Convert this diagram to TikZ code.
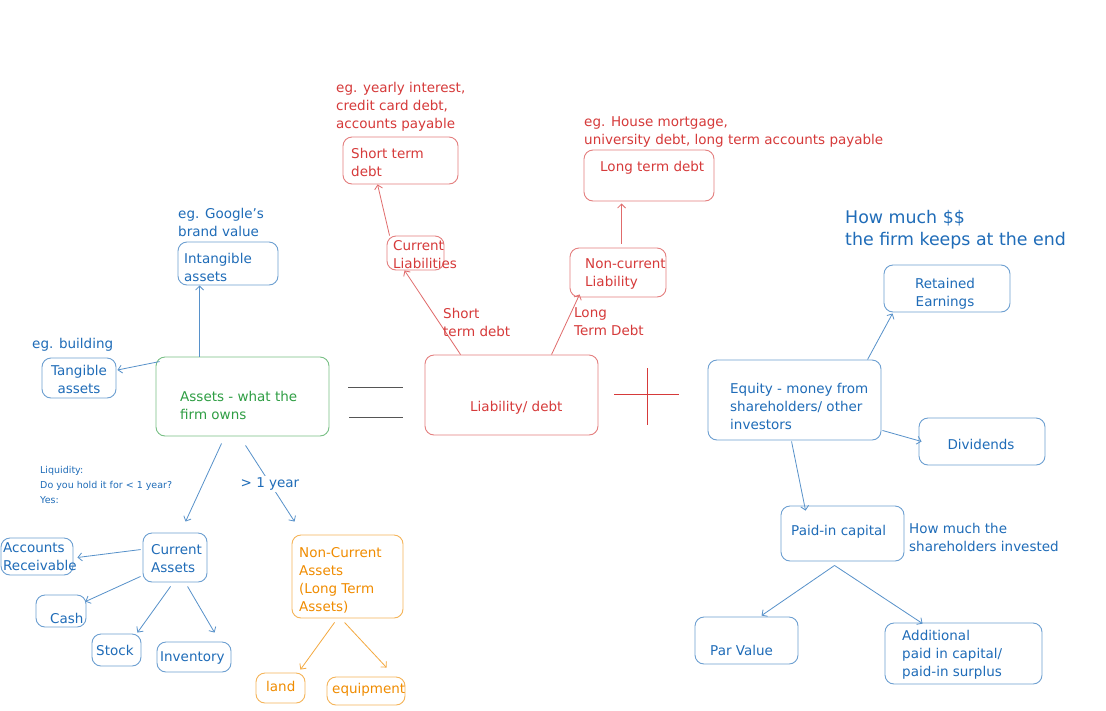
\documentclass[tikz,border=0pt]{standalone}
\usepackage{fontspec}
\setmainfont{DejaVu Sans}
\usetikzlibrary{arrows.meta,calc,fit}
\definecolor{cblue}{HTML}{1F6CB8}
\definecolor{cred}{HTML}{D63A3A}
\definecolor{cgreen}{HTML}{2F9E44}
\definecolor{corange}{HTML}{F08C00}
\definecolor{cgray}{HTML}{555555}
\begin{document}
\begin{tikzpicture}[x=1pt,y=-1pt,
 box/.style={draw=#1!65, rounded corners=9pt, line width=0.9pt, inner sep=0pt},
 txt/.style={anchor=west, align=left, inner sep=0pt, font=\fontsize{13.5}{18}\selectfont},
 ctxt/.style={txt, anchor=center, align=center},
 small/.style={txt, font=\fontsize{9.5}{15}\selectfont},
 big/.style={txt, font=\fontsize{17.4}{22}\selectfont},
 arr/.style={draw=#1!75, -{Straight Barb[length=4pt,width=8pt]}, line width=0.8pt},
 R/.style={cred}, B/.style={cblue}, G/.style={cgreen}, O/.style={corange}]
\useasboundingbox[fill=white] (0,0) rectangle (1106,710);

% ---------- boxes ----------
\node[box=cred,fit={(343,137)(458,184)}] (std) {};
\node[box=cred,fit={(584,150)(714,201)}] (ltd) {};
\node[box=cred,fit={(387,236)(444,270)}] (cl) {};
\node[box=cred,fit={(570,248)(666,297)}] (ncl) {};
\node[box=cred,fit={(425,355)(598,435)}] (liab) {};
\node[box=cgreen,fit={(156,357)(329,436)}] (assets) {};
\node[box=cblue,fit={(42,358)(116,398)}] (tang) {};
\node[box=cblue,fit={(178,242)(278,285)}] (intang) {};
\node[box=cblue,fit={(143,533)(207,582)}] (ca) {};
\node[box=cblue,fit={(1,538)(73,575)}] (ar) {};
\node[box=cblue,fit={(36,595)(86,627)}] (cash) {};
\node[box=cblue,fit={(92,634)(141,666)}] (stock) {};
\node[box=cblue,fit={(157,642)(231,672)}] (inv) {};
\node[box=corange,fit={(292,535)(403,618)}] (nca) {};
\node[box=corange,fit={(256,673)(305,703)}] (land) {};
\node[box=corange,fit={(327,677)(405,705)}] (equip) {};
\node[box=cblue,fit={(708,360)(881,440)}] (equity) {};
\node[box=cblue,fit={(884,265)(1010,312)}] (ret) {};
\node[box=cblue,fit={(919,418)(1045,465)}] (div) {};
\node[box=cblue,fit={(781,506)(904,561)}] (paid) {};
\node[box=cblue,fit={(695,617)(798,664)}] (par) {};
\node[box=cblue,fit={(885,623)(1042,684)}] (add) {};

% ---------- = and + ----------
\draw[cgray,line width=0.7pt] (348,387) -- (403,387);
\draw[cgray,line width=0.7pt] (349,417) -- (403,417);
\draw[cred,line width=0.7pt] (614,394) -- (679,394);
\draw[cred,line width=0.7pt] (647,368) -- (647,425);

% ---------- connectors ----------
\draw[arr=cred] ($(liab.north west)+(36,0)$) -- ($(cl.south west)+(18,0)$);
\draw[arr=cred] ($(cl.north west)+(3,0)$) -- ($(std.south west)+(35,0)$);
\draw[arr=cred] ($(liab.north west)+(127,0)$) -- ($(ncl.south west)+(10,-3)$);
\draw[arr=cred] ($(ncl.north west)+(52,-4)$) -- ($(ltd.south west)+(38,2)$);
\draw[arr=cblue] ($(assets.north west)+(44,0)$) -- ($(intang.south west)+(22,0)$);
\draw[arr=cblue] ($(assets.north west)+(4,5)$) -- ($(tang.east)+(1,-8)$);
\draw[arr=cblue] ($(assets.south west)+(66,7)$) -- ($(ca.north west)+(43,-11)$);
\draw[arr=cblue] ($(assets.south west)+(90,9)$) -- ($(nca.north west)+(3,-13)$);
\draw[arr=cblue] ($(ca.north west)+(-2,17)$) -- ($(ar.east)+(4,1)$);
\draw[arr=cblue] ($(ca.south west)+(-2,-6)$) -- ($(cash.north east)+(-1,7)$);
\draw[arr=cblue] ($(ca.south west)+(28,4)$) -- ($(stock.north east)+(-4,-1)$);
\draw[arr=cblue] ($(ca.south west)+(45,4)$) -- ($(inv.north west)+(58,-9)$);
\draw[arr=corange] ($(nca.south west)+(43,4)$) -- ($(land.north east)+(-5,-3)$);
\draw[arr=corange] ($(nca.south west)+(53,4)$) -- ($(equip.north west)+(60,-9)$);
\draw[arr=cblue] ($(equity.north west)+(160,0)$) -- ($(ret.south west)+(9,1)$);
\draw[arr=cblue] ($(equity.south east)+(1,-10)$) -- ($(div.west)+(3,0)$);
\draw[arr=cblue] ($(equity.south west)+(84,1)$) -- ($(paid.north west)+(25,5)$);
\draw[arr=cblue] ($(paid.south west)+(54,4)$) -- ($(par.north west)+(67,-1)$);
\draw[arr=cblue] ($(paid.south west)+(54,4)$) -- ($(add.north west)+(38,1)$);

% ---------- texts ----------
\node[txt,R] (t-ex1) at (336,107) {eg. yearly interest,\\credit card debt,\\accounts payable};
\node[txt,R] (t-std) at (351,162) {Short term\\debt};
\node[txt,R] (t-ex2) at (584,132) {eg. House mortgage,\\university debt, long term accounts payable};
\node[txt,R] (t-ltd) at (600,168) {Long term debt};
\node[txt,R] (t-cl) at (393,255) {Current\\Liabilities};
\node[txt,R] (t-ncl) at (585,274) {Non-current\\Liability};
\node[txt,R] (t-lab1) at (443,322) {Short\\term debt};
\node[txt,R] (t-lab2) at (574,322) {Long\\Term Debt};
\node[txt,R] (t-liab) at (470,408) {Liability/ debt};
\node[txt,G] (t-assets) at (180,405) {Assets - what the\\firm owns};
\node[ctxt,B] (t-tang) at (79,379) {Tangible\\assets};
\node[txt,B] (t-exb) at (32,345) {eg. building};
\node[txt,B] (t-intang) at (184,267) {Intangible\\assets};
\node[txt,B] (t-exg) at (178,222) {eg. Google's\\brand value};
\node[small,B] (t-liq) at (40,485) {Liquidity:\\Do you hold it for < 1 year?\\Yes:};
\node[ctxt,B,fill=white,inner sep=2pt] (t-gt) at (270,484) {> 1 year};
\node[txt,B] (t-ca) at (151,559) {Current\\Assets};
\node[txt,B] (t-ar) at (3,557) {Accounts\\Receivable};
\node[txt,B] (t-cash) at (50,618) {Cash};
\node[txt,B] (t-stock) at (96,650) {Stock};
\node[txt,B] (t-inv) at (160,658) {Inventory};
\node[txt,O] (t-nca) at (299,580) {Non-Current\\Assets\\(Long Term\\Assets)};
\node[txt,O] (t-land) at (266,686) {land};
\node[txt,O] (t-equip) at (332,690) {equipment};
\node[txt,B] (t-equity) at (730,406) {Equity - money from\\shareholders/ other\\investors};
\node[ctxt,B] (t-ret) at (945,294) {Retained\\Earnings};
\node[ctxt,B] (t-div) at (981,444) {Dividends};
\node[big,B] (t-hm) at (845,230) {How much \$\$\\the firm keeps at the end};
\node[txt,B] (t-paid) at (791,532) {Paid-in capital};
\node[txt,B] (t-hm2) at (909,537) {How much the\\shareholders invested};
\node[txt,B] (t-par) at (710,650) {Par Value};
\node[txt,B] (t-add) at (902,655) {Additional\\paid in capital/\\paid-in surplus};
\end{tikzpicture}
\end{document}
